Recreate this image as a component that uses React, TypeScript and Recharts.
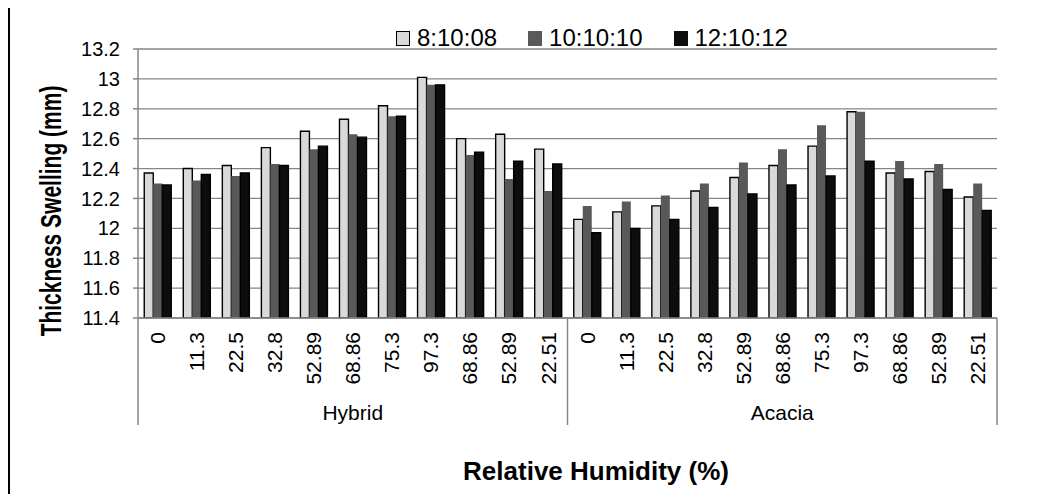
import React from 'react';
import { BarChart, Bar, XAxis, YAxis, CartesianGrid, Label } from 'recharts';

const groups = ['Hybrid', 'Acacia'];
const rhLabels = ['0', '11.3', '22.5', '32.8', '52.89', '68.86', '75.3', '97.3', '68.86', '52.89', '22.51'];
const seriesNames = ['8:10:08', '10:10:10', '12:10:12'];
const seriesColors = ['#D9D9D9', '#595959', '#0D0D0D'];
const seriesStrokes = ['#000000', 'none', '#000000'];

const hybrid81008 = [12.37, 12.40, 12.42, 12.54, 12.65, 12.73, 12.82, 13.01, 12.60, 12.63, 12.53];
const hybrid101010 = [12.30, 12.32, 12.35, 12.43, 12.53, 12.63, 12.75, 12.96, 12.49, 12.33, 12.25];
const hybrid121012 = [12.29, 12.36, 12.37, 12.42, 12.55, 12.61, 12.75, 12.96, 12.51, 12.45, 12.43];
const acacia81008 = [12.06, 12.11, 12.15, 12.25, 12.34, 12.42, 12.55, 12.78, 12.37, 12.38, 12.21];
const acacia101010 = [12.15, 12.18, 12.22, 12.30, 12.44, 12.53, 12.69, 12.78, 12.45, 12.43, 12.30];
const acacia121012 = [11.97, 12.00, 12.06, 12.14, 12.23, 12.29, 12.35, 12.45, 12.33, 12.26, 12.12];

const yTicks = [11.4, 11.6, 11.8, 12, 12.2, 12.4, 12.6, 12.8, 13, 13.2];

const valuesByGroup: Record<string, number[][]> = {
  Hybrid: [hybrid81008, hybrid101010, hybrid121012],
  Acacia: [acacia81008, acacia101010, acacia121012],
};

const rows = groups.flatMap((g) =>
  rhLabels.map((rh, i) => ({
    key: `${g}-${i}`,
    group: g,
    rh,
    s0: valuesByGroup[g][0][i],
    s1: valuesByGroup[g][1][i],
    s2: valuesByGroup[g][2][i],
  }))
);

const FONT = '"Liberation Sans", Arial, sans-serif';
const AXIS_GRAY = '#868686';

const RhTick = (props: any) => {
  const { x, y, payload } = props;
  const idx: number = payload.index;
  const row = rows[idx];
  if (!row) return null;
  const half: number = payload.offset ?? 19.5;
  const n = rhLabels.length;
  const pos = idx % n;
  return (
    <g>
      <text
        transform={`translate(${x},${y + 14}) rotate(-90)`}
        textAnchor="end"
        dy="0.36em"
        fontSize={21}
        fontFamily={FONT}
        fill="#000"
      >
        {row.rh}
      </text>
      {pos === 0 && (
        <line x1={x - half} x2={x - half} y1={y} y2={y + 107} stroke={AXIS_GRAY} strokeWidth={1.5} />
      )}
      {idx === rows.length - 1 && (
        <line x1={x + half} x2={x + half} y1={y} y2={y + 107} stroke={AXIS_GRAY} strokeWidth={1.5} />
      )}
      {pos === Math.floor(n / 2) && (
        <text x={x} y={y + 94} textAnchor="middle" dy="0.36em" fontSize={21} fontFamily={FONT} fill="#000">
          {row.group}
        </text>
      )}
    </g>
  );
};

const YTitle = () => (
  <text
    transform="translate(42,203) scale(1.4,1) rotate(-90)"
    textAnchor="middle"
    dy="0.36em"
    fontSize={21}
    fontWeight="bold"
    fontFamily={FONT}
    fill="#000"
  >
    Thickness Swelling (mm)
  </text>
);

const XTitle = () => (
  <text x={588} y={472} textAnchor="middle" fontSize={26} fontWeight="bold" fontFamily={FONT} fill="#000">
    Relative Humidity (%)
  </text>
);

export default function App() {
  return (
    <div style={{ position: 'relative', width: 1025, height: 486, fontFamily: FONT }}>
      <div style={{ position: 'absolute', left: 0, top: 0, width: 2, height: 486, background: '#000' }} />
      <BarChart
        width={1025}
        height={486}
        data={rows}
        margin={{ top: 41, right: 36, bottom: 0, left: 0 }}
        barCategoryGap="16%"
        barGap={0}
      >
        <CartesianGrid vertical={false} stroke={AXIS_GRAY} strokeWidth={1.3} />
        <XAxis
          dataKey="key"
          type="category"
          height={176}
          interval={0}
          tickLine={false}
          tickSize={0}
          tickMargin={0}
          axisLine={{ stroke: AXIS_GRAY, strokeWidth: 1.5 }}
          tick={<RhTick />}
        >
          <Label content={<XTitle />} />
        </XAxis>
        <YAxis
          width={130}
          domain={[11.4, 13.2]}
          ticks={yTicks}
          allowDataOverflow
          tickSize={5}
          tickMargin={13}
          axisLine={{ stroke: AXIS_GRAY, strokeWidth: 1.5 }}
          tickLine={{ stroke: AXIS_GRAY, strokeWidth: 1.5 }}
          tick={{ fontSize: 20, fill: '#000', fontFamily: FONT }}
        >
          <Label content={<YTitle />} />
        </YAxis>
        {seriesNames.map((name, i) => (
          <Bar
            key={name}
            dataKey={`s${i}`}
            name={name}
            fill={seriesColors[i]}
            stroke={seriesStrokes[i]}
            strokeWidth={1.4}
            isAnimationActive={false}
          />
        ))}
      </BarChart>
      <div
        style={{
          position: 'absolute',
          left: 388,
          top: 18,
          height: 24,
          display: 'flex',
          alignItems: 'center',
          fontSize: 24,
          lineHeight: '24px',
          color: '#000',
          whiteSpace: 'nowrap',
        }}
      >
        {seriesNames.map((name, i) => (
          <div key={name} style={{ display: 'flex', alignItems: 'center', marginRight: 31 }}>
            <div
              style={{
                width: 14,
                height: 15,
                boxSizing: 'border-box',
                background: seriesColors[i],
                border: i === 0 ? '1.5px solid #000' : 'none',
                marginRight: 7,
              }}
            />
            <span>{name}</span>
          </div>
        ))}
      </div>
    </div>
  );
}
